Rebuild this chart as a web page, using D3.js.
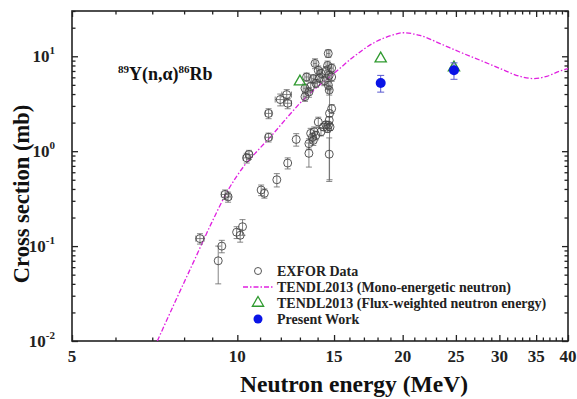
<!DOCTYPE html>
<html>
<head>
<meta charset="utf-8">
<script src="https://cdn.jsdelivr.net/npm/d3@7"></script>
<style>
  body { margin: 0; background: #fff; }
  svg { display: block; font-family: "Liberation Serif", "Times New Roman", serif; font-weight: bold; }
</style>
</head>
<body>
<svg id="chart" width="577" height="399"></svg>
<script>
// EXFOR data: energy (MeV), cross section (mb), energy error, cross section error
const exforE  = [8.55, 9.23, 9.37, 9.5, 9.62, 9.97, 10.12, 10.22, 10.4, 10.5, 11.05, 11.2, 11.8, 12.35, 11.4, 11.4, 11.97, 12.3, 12.35, 12.8, 13.5, 14.7,
                 13.28, 13.28, 13.37, 13.5, 13.75, 13.85, 13.9, 14.04, 14.2, 14.4, 14.6, 14.64, 14.65, 14.7, 14.7, 14.85, 14.85, 13.6, 14.1, 14.5,
                 13.5, 13.6, 13.7, 13.75, 13.8, 13.9, 14.04, 14.2, 14.35, 14.5, 14.6, 14.65, 14.7, 14.75, 14.85, 14.72];
const exforS  = [0.12, 0.07, 0.10, 0.35, 0.33, 0.14, 0.13, 0.16, 0.85, 0.92, 0.39, 0.36, 0.5, 0.75, 1.4, 2.5, 3.5, 3.95, 3.2, 1.33, 0.95, 0.93,
                 3.75, 4.6, 6.05, 4.2, 5.8, 8.4, 5.2, 7.1, 6.6, 5.5, 8.0, 10.7, 4.95, 6.3, 4.4, 7.5, 6.05, 4.8, 5.9, 7.0,
                 1.2, 1.54, 1.4, 1.3, 1.6, 1.47, 2.03, 1.6, 1.8, 1.9, 1.73, 1.88, 2.12, 1.8, 2.8, 2.5];
const exforDE = [0.15, 0, 0, 0.15, 0.12, 0, 0, 0, 0.15, 0.15, 0, 0, 0, 0, 0.15, 0.15, 0.25, 0.25, 0.2, 0, 0, 0,
                 0.1, 0.1, 0.1, 0.1, 0.1, 0.1, 0.1, 0.1, 0.1, 0.1, 0.1, 0.1, 0.1, 0.1, 0.1, 0.1, 0, 0, 0, 0,
                 0, 0, 0, 0, 0, 0, 0, 0, 0, 0, 0, 0, 0, 0, 0, 0];
const exforDS = [0.015, 0.03, 0.015, 0.04, 0.04, 0.02, 0.02, 0.03, 0.1, 0.1, 0.05, 0.04, 0.08, 0.1, 0.15, 0.3, 0.5, 0.5, 0.4, 0.2, 0.27, 0.45,
                 0.4, 0.5, 0.6, 0.5, 0.6, 1.0, 0.5, 0.8, 0.7, 0.6, 0.9, 1.0, 0.5, 0.6, 0.5, 0.8, 0.6, 0.5, 0.6, 0.8,
                 0.15, 0.2, 0.15, 0.15, 0.2, 0.15, 0.25, 0.15, 0.15, 0.15, 0.15, 0.15, 0.2, 0.15, 0.3, 2.0];

// TENDL2013 mono-energetic curve
const tendlE = [7.15, 7.73, 8.37, 8.99, 9.62, 10.28, 10.9, 11.47, 12.47, 13.0, 13.9, 14.93, 16.24, 17.66, 19.21, 20.03, 21.5, 23.4, 25.4, 27.7, 30.1, 32.7, 34.6, 36.6, 38.7, 40];
const tendlS = [0.01, 0.027, 0.073, 0.179, 0.389, 0.695, 1.02, 1.40, 2.45, 3.2, 4.61, 6.46, 9.76, 13.7, 16.8, 17.7, 16.6, 13.6, 11.1, 9.07, 7.42, 6.15, 5.82, 6.15, 7.0, 7.42];

// TENDL2013 flux-weighted
const fluxE = [13.0, 18.24, 24.8];
const fluxS = [5.4, 9.46, 7.6];

// Present work
const presE  = [18.24, 24.8];
const presS  = [5.24, 7.12];
const presDS = [1.05, 1.4];

const xMajor = [5, 10, 15, 20, 25, 30, 35, 40];
const yMajor = [0.01, 0.1, 1, 10];
const yExp   = ["-2", "-1", "0", "1"];

const legendLabels = ["EXFOR Data", "TENDL2013 (Mono-energetic neutron)", "TENDL2013 (Flux-weighted neutron energy)", "Present Work"];

const margin = { left: 72, right: 9, top: 11, bottom: 58 };
const width = 577, height = 399;

const svg = d3.select("#chart");

const x = d3.scaleLog().domain([5, 40]).range([margin.left, width - margin.right]);
const y = d3.scaleLog().domain([0.01, 30]).range([height - margin.bottom, margin.top]);

const xMinor = d3.range(6, 40).filter(v => !xMajor.includes(v));
const yMinor = [];
[0.01, 0.1, 1, 10].forEach(d => { for (let k = 2; k <= 9; k++) { if (k * d <= 30) yMinor.push(k * d); } });

const x0 = x.range()[0], x1 = x.range()[1], y0 = y.range()[0], y1 = y.range()[1];

// ticks, all four sides pointing inward
function tickAxis(axis, transform, values, size) {
    const g = svg.append("g")
        .attr("transform", transform)
        .call(axis.tickValues(values).tickSize(size).tickFormat(""));
    g.select(".domain").remove();
    g.selectAll("line").attr("stroke", "#222").attr("stroke-width", 1.3);
    return g;
}
tickAxis(d3.axisBottom(x), `translate(0,${y0})`, xMajor, -6);
tickAxis(d3.axisBottom(x), `translate(0,${y0})`, xMinor, -3.5);
tickAxis(d3.axisTop(x), `translate(0,${y1})`, xMajor, -6);
tickAxis(d3.axisTop(x), `translate(0,${y1})`, xMinor, -3.5);
tickAxis(d3.axisLeft(y), `translate(${x0},0)`, yMajor, -6);
tickAxis(d3.axisLeft(y), `translate(${x0},0)`, yMinor, -3.5);
tickAxis(d3.axisRight(y), `translate(${x1},0)`, yMajor, -6);
tickAxis(d3.axisRight(y), `translate(${x1},0)`, yMinor, -3.5);

// frame
svg.append("rect")
    .attr("x", x0).attr("y", y1)
    .attr("width", x1 - x0).attr("height", y0 - y1)
    .attr("fill", "none").attr("stroke", "#222").attr("stroke-width", 1.6);

// x tick labels
svg.append("g").selectAll("text")
    .data(xMajor)
    .enter().append("text")
    .attr("x", d => x(d))
    .attr("y", y0 + 21)
    .attr("text-anchor", "middle")
    .attr("font-size", 17)
    .attr("fill", "#222")
    .text(d => d);

// y tick labels with superscripts
const yLab = svg.append("g").selectAll("text")
    .data(yMajor)
    .enter().append("text")
    .attr("x", x0 - 17)
    .attr("y", d => y(d) + 6)
    .attr("text-anchor", "end")
    .attr("font-size", 17)
    .attr("fill", "#222");
yLab.append("tspan").text("10");
yLab.append("tspan").attr("dy", -8).attr("font-size", 11).text((d, i) => yExp[i]);

// axis titles
svg.append("text")
    .attr("x", 354).attr("y", 392)
    .attr("text-anchor", "middle")
    .attr("font-size", 23.5)
    .attr("fill", "#111")
    .text("Neutron energy (MeV)");

svg.append("text")
    .attr("transform", `translate(29,${(y0 + y1) / 2 + 18}) rotate(-90)`)
    .attr("text-anchor", "middle")
    .attr("font-size", 22.5)
    .attr("fill", "#111")
    .text("Cross section (mb)");

// reaction label
const rx = svg.append("text")
    .attr("x", 118).attr("y", 80)
    .attr("font-size", 18)
    .attr("fill", "#111");
rx.append("tspan").attr("font-size", 11).attr("dy", -7).text("89");
rx.append("tspan").attr("dy", 7).text("Y(n,α)");
rx.append("tspan").attr("font-size", 11).attr("dy", -7).text("86");
rx.append("tspan").attr("dy", 7).text("Rb");

// clip to plot
svg.append("clipPath").attr("id", "clip")
    .append("rect").attr("x", x0).attr("y", y1).attr("width", x1 - x0).attr("height", y0 - y1);
const plot = svg.append("g").attr("clip-path", "url(#clip)");

// TENDL curve
const line = d3.line()
    .x((d, i) => x(tendlE[i]))
    .y((d, i) => y(tendlS[i]))
    .curve(d3.curveMonotoneX);
plot.append("path")
    .datum(tendlE)
    .attr("d", line)
    .attr("fill", "none")
    .attr("stroke", "#e020e0")
    .attr("stroke-width", 1.3)
    .attr("stroke-dasharray", "5,2,1.5,2");

// EXFOR error bars and circles
const exfor = exforE.map((e, i) => ({ e, s: exforS[i], de: exforDE[i], ds: exforDS[i] }));
const eg = plot.append("g").attr("stroke", "#666").attr("stroke-width", 0.8).attr("fill", "none");
exfor.forEach(d => {
    const cx = x(d.e), cy = y(d.s);
    const top = y(d.s + d.ds), bot = y(Math.max(d.s - d.ds, 0.0001));
    eg.append("line").attr("x1", cx).attr("x2", cx).attr("y1", top).attr("y2", bot);
    eg.append("line").attr("x1", cx - 3).attr("x2", cx + 3).attr("y1", top).attr("y2", top);
    eg.append("line").attr("x1", cx - 3).attr("x2", cx + 3).attr("y1", bot).attr("y2", bot);
    if (d.de > 0) {
        const l = x(d.e - d.de), r = x(d.e + d.de);
        eg.append("line").attr("x1", l).attr("x2", r).attr("y1", cy).attr("y2", cy);
        eg.append("line").attr("x1", l).attr("x2", l).attr("y1", cy - 3).attr("y2", cy + 3);
        eg.append("line").attr("x1", r).attr("x2", r).attr("y1", cy - 3).attr("y2", cy + 3);
    }
});
plot.append("g").selectAll("circle")
    .data(exfor)
    .enter().append("circle")
    .attr("cx", d => x(d.e))
    .attr("cy", d => y(d.s))
    .attr("r", 4)
    .attr("fill", "none")
    .attr("stroke", "#444")
    .attr("stroke-width", 0.9);

// flux-weighted triangles
const tri = d3.symbol().type(d3.symbolTriangle).size(55);
plot.append("g").selectAll("path")
    .data(fluxE)
    .enter().append("path")
    .attr("transform", (d, i) => `translate(${x(d)},${y(fluxS[i])})`)
    .attr("d", tri)
    .attr("fill", "none")
    .attr("stroke", "#2f9a2f")
    .attr("stroke-width", 1.3);

// present work
presE.forEach((e, i) => {
    const cx = x(e), top = y(presS[i] + presDS[i]), bot = y(presS[i] - presDS[i]);
    const g = plot.append("g").attr("stroke", "#5a5ad0").attr("stroke-width", 1);
    g.append("line").attr("x1", cx).attr("x2", cx).attr("y1", top).attr("y2", bot);
    g.append("line").attr("x1", cx - 3.5).attr("x2", cx + 3.5).attr("y1", top).attr("y2", top);
    g.append("line").attr("x1", cx - 3.5).attr("x2", cx + 3.5).attr("y1", bot).attr("y2", bot);
});
plot.append("g").selectAll("circle")
    .data(presE)
    .enter().append("circle")
    .attr("cx", d => x(d))
    .attr("cy", (d, i) => y(presS[i]))
    .attr("r", 5)
    .attr("fill", "#0a14e6");

// legend
const lg = svg.append("g");
const rowY = [271, 287, 303, 319];
lg.selectAll("text")
    .data(legendLabels)
    .enter().append("text")
    .attr("x", 277)
    .attr("y", (d, i) => rowY[i] + 5)
    .attr("font-size", 14)
    .attr("fill", "#222")
    .text(d => d);
lg.append("circle").attr("cx", 258).attr("cy", rowY[0]).attr("r", 3.5)
    .attr("fill", "none").attr("stroke", "#444").attr("stroke-width", 0.9);
lg.append("line").attr("x1", 243).attr("x2", 273).attr("y1", rowY[1]).attr("y2", rowY[1])
    .attr("stroke", "#e020e0").attr("stroke-width", 1.3).attr("stroke-dasharray", "5,2,1.5,2");
lg.append("path").attr("transform", `translate(258,${rowY[2]})`).attr("d", tri)
    .attr("fill", "none").attr("stroke", "#2f9a2f").attr("stroke-width", 1.3);
lg.append("circle").attr("cx", 258).attr("cy", rowY[3]).attr("r", 4.5).attr("fill", "#0a14e6");
</script>
</body>
</html>
